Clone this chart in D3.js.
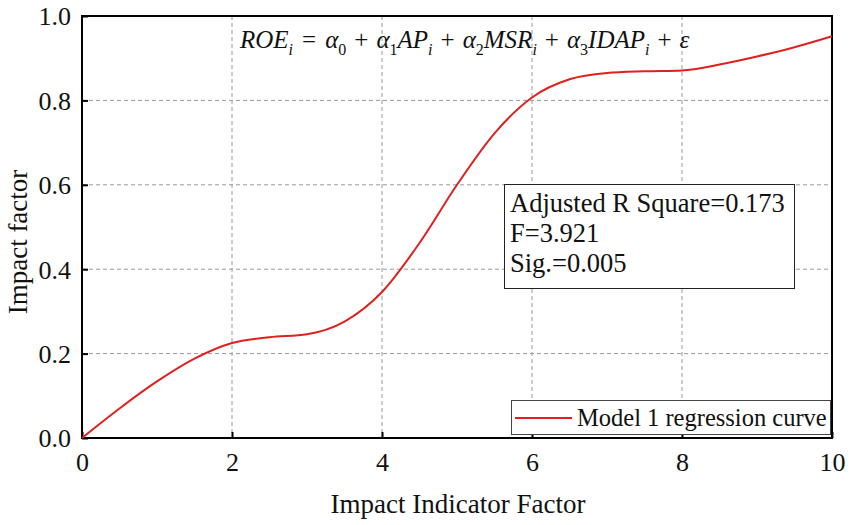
<!DOCTYPE html>
<html>
<head>
<meta charset="utf-8">
<script src="https://cdn.jsdelivr.net/npm/d3@7/dist/d3.min.js"></script>
<style>
  body { margin: 0; background: #fff; }
  text { font-family: "Liberation Serif", "Times New Roman", serif; fill: #111; }
</style>
</head>
<body>
<svg id="chart" width="850" height="525"></svg>
<script>
// values
var xValues = [0, 0.5, 1, 1.5, 2, 2.5, 3, 3.5, 4, 4.5, 5, 5.5, 6, 6.5, 7, 7.5, 8, 8.5, 9, 9.5, 10];
var yValues = [0, 0.07, 0.134, 0.188, 0.225, 0.239, 0.246, 0.276, 0.346, 0.462, 0.60, 0.722, 0.807, 0.85, 0.865, 0.869, 0.871, 0.885, 0.904, 0.926, 0.952];
var xTicks = [0, 2, 4, 6, 8, 10];
var yTicks = [0, 0.2, 0.4, 0.6, 0.8, 1.0];
var statLines = ['Adjusted R Square=0.173', 'F=3.921', 'Sig.=0.005'];
var legendLabel = 'Model 1 regression curve';

(function () {
  'use strict';

  var left = 82, right = 832, top = 16, bottom = 438;
  var svg = d3.select('#chart');

  var x = d3.scaleLinear().domain([0, 10]).range([left, right]);
  var y = d3.scaleLinear().domain([0, 1]).range([bottom, top]);

  // dashed grid
  var grid = svg.append('g').attr('stroke', '#9a9a9a').attr('stroke-width', 1)
    .attr('stroke-dasharray', '4,3');
  grid.selectAll('.gx').data(xTicks.slice(1, -1)).join('line')
    .attr('x1', function (d) { return x(d); }).attr('x2', function (d) { return x(d); })
    .attr('y1', top).attr('y2', bottom);
  grid.selectAll('.gy').data(yTicks.slice(1, -1)).join('line')
    .attr('y1', function (d) { return y(d); }).attr('y2', function (d) { return y(d); })
    .attr('x1', left).attr('x2', right);

  // axes with inward ticks
  var xAxis = d3.axisBottom(x).tickValues(xTicks).tickSizeInner(-6).tickSizeOuter(0)
    .tickPadding(15).tickFormat(d3.format('d'));
  var gx = svg.append('g').attr('transform', 'translate(0,' + bottom + ')').call(xAxis);
  var yAxis = d3.axisLeft(y).tickValues(yTicks).tickSizeInner(-6).tickSizeOuter(0)
    .tickPadding(11).tickFormat(d3.format('.1f'));
  var gy = svg.append('g').attr('transform', 'translate(' + left + ',0)').call(yAxis);
  [gx, gy].forEach(function (g) {
    g.select('.domain').remove();
    g.selectAll('.tick line').attr('stroke', '#000').attr('stroke-width', 2);
    g.selectAll('.tick text').attr('font-size', 26)
      .style('font-family', '"Liberation Serif", serif').attr('fill', '#111');
  });
  gx.selectAll('.tick text').attr('dy', '0.71em');
  gy.selectAll('.tick text').attr('dy', '0.34em');

  // frame
  svg.append('rect').attr('x', left).attr('y', top)
    .attr('width', right - left).attr('height', bottom - top)
    .attr('fill', 'none').attr('stroke', '#000').attr('stroke-width', 2);

  // curve
  var pts = xValues.map(function (v, i) { return [v, yValues[i]]; });
  var line = d3.line()
    .x(function (d) { return x(d[0]); })
    .y(function (d) { return y(d[1]); })
    .curve(d3.curveMonotoneX);
  svg.append('path').datum(pts).attr('d', line)
    .attr('fill', 'none').attr('stroke', '#e0201c').attr('stroke-width', 2);

  // equation: [text, italic?, subscript?, extra space before]
  var eq = [
    ['ROE', 1, 0, 0], ['i', 1, 1, 0], ['=', 0, 0, 9],
    ['α', 1, 0, 9], ['0', 0, 1, 0], ['+', 0, 0, 8],
    ['α', 1, 0, 8], ['1', 0, 1, 0], ['AP', 1, 0, 0], ['i', 1, 1, 0], ['+', 0, 0, 8],
    ['α', 1, 0, 8], ['2', 0, 1, 0], ['MSR', 1, 0, 0], ['i', 1, 1, 0], ['+', 0, 0, 8],
    ['α', 1, 0, 8], ['3', 0, 1, 0], ['IDAP', 1, 0, 0], ['i', 1, 1, 0], ['+', 0, 0, 8],
    ['ε', 1, 0, 8]
  ];
  var eqText = svg.append('text').attr('x', 240).attr('y', 48).attr('font-size', 25);
  var prevSub = 0;
  eq.forEach(function (p) {
    var shift = (p[2] ? 7 : 0) - (prevSub ? 7 : 0);
    eqText.append('tspan')
      .attr('dy', shift)
      .attr('dx', p[3])
      .attr('font-style', p[1] ? 'italic' : 'normal')
      .attr('font-size', p[2] ? 16 : 25)
      .text(p[0]);
    prevSub = p[2];
  });

  // stats box
  svg.append('rect').attr('x', 504.5).attr('y', 184.5).attr('width', 290).attr('height', 104)
    .attr('fill', '#fff').attr('stroke', '#222').attr('stroke-width', 1);
  svg.append('g').selectAll('text').data(statLines).join('text')
    .attr('x', 510).attr('y', function (d, i) { return 212 + i * 30; })
    .attr('font-size', 26.5).text(function (d) { return d; });

  // legend
  svg.append('rect').attr('x', 511.5).attr('y', 400.5).attr('width', 319).attr('height', 34)
    .attr('fill', '#fff').attr('stroke', '#444').attr('stroke-width', 1);
  svg.append('line').attr('x1', 515).attr('x2', 572).attr('y1', 418).attr('y2', 418)
    .attr('stroke', '#e0201c').attr('stroke-width', 2);
  svg.append('text').attr('x', 577).attr('y', 426).attr('font-size', 24.5).text(legendLabel);

  // axis titles
  svg.append('text').attr('x', (left + right) / 2 + 1).attr('y', 513)
    .attr('text-anchor', 'middle').attr('font-size', 27).text('Impact Indicator Factor');
  svg.append('text').attr('transform', 'translate(27,242) rotate(-90)')
    .attr('text-anchor', 'middle').attr('font-size', 27).text('Impact factor');
})();
</script>
</body>
</html>
